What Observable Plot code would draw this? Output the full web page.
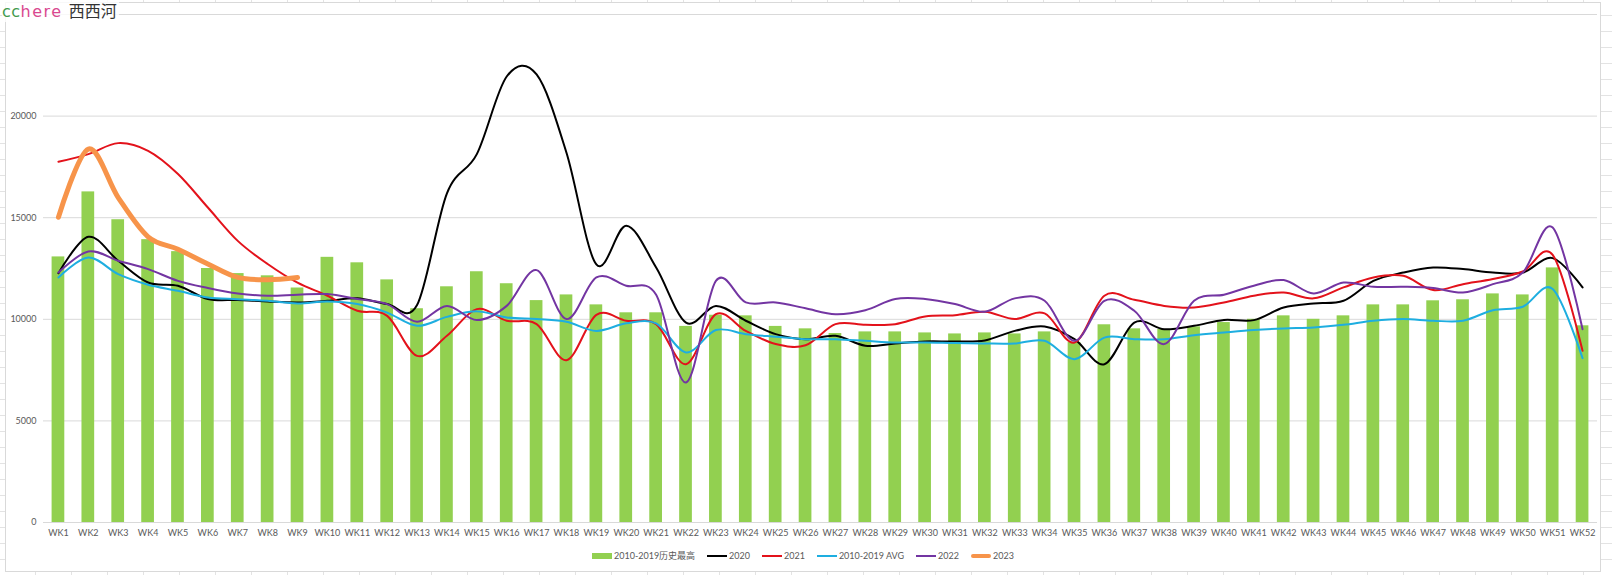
<!DOCTYPE html>
<html>
<head>
<meta charset="utf-8">
<script src="https://cdn.jsdelivr.net/npm/d3@7"></script>
<script src="https://cdn.jsdelivr.net/npm/@observablehq/plot@0.6"></script>
<style>
  html, body { margin: 0; padding: 0; }
  body {
    width: 1612px; height: 575px; position: relative; overflow: hidden;
    background-color: #ffffff;
    background-image:
      repeating-linear-gradient(to bottom, transparent 0 15px, #e3e3e3 15px 16px),
      repeating-linear-gradient(to right, transparent 0 35px, #e3e3e3 35px 36px);
  }
  #box {
    position: absolute; left: 5px; top: 2px; width: 1594px; height: 568px;
    background: #ffffff; border: 1px solid #d9d9d9;
  }
  #chart { position: absolute; left: 0; top: 0; }
  #title {
    position: absolute; left: 2px; top: 0px; font-size: 16px; line-height: 21px;
    background: rgba(255,255,255,0.8); padding-right: 2px; white-space: nowrap;
  }
  #title .cc { color: #3f9a4c; font-family: "DejaVu Sans"; letter-spacing: 0.5px; }
  #title .here { color: #d9488f; font-family: "DejaVu Sans"; letter-spacing: 1.5px; }
  #title .cn { color: #333333; font-family: "Noto Sans CJK SC"; font-size: 16px; margin-left: 2px; }
  #legend {
    position: absolute; left: 592px; top: 549px; height: 13px;
    display: flex; align-items: center; font-family: Lato, "Noto Sans CJK SC", sans-serif;
    font-size: 9px; color: #595959; white-space: nowrap;
  }
  #legend .item { display: flex; align-items: center; margin-right: 12px; }
  #legend .sw { display: inline-block; width: 20px; margin-right: 2px; }
</style>
</head>
<body>
<div id="box"></div>
<div id="chart"></div>
<div id="title"><span class="cc">cc</span><span class="here">here</span> <span class="cn">西西河</span></div>
<div id="legend"></div>
<script>
const weeks = ["WK1","WK2","WK3","WK4","WK5","WK6","WK7","WK8","WK9","WK10",
  "WK11","WK12","WK13","WK14","WK15","WK16","WK17","WK18","WK19","WK20",
  "WK21","WK22","WK23","WK24","WK25","WK26","WK27","WK28","WK29","WK30",
  "WK31","WK32","WK33","WK34","WK35","WK36","WK37","WK38","WK39","WK40",
  "WK41","WK42","WK43","WK44","WK45","WK46","WK47","WK48","WK49","WK50",
  "WK51","WK52"];

// 2010-2019 历史最高 (bars)
const histHigh = [13070,16270,14900,13920,13330,12500,12250,12140,11540,13050,
  12780,11940,10520,11600,12340,11750,10920,11200,10710,10320,
  10320,9650,10200,10170,9650,9530,9300,9380,9380,9330,
  9280,9330,9280,9380,8860,9730,9530,9500,9630,9840,
  10000,10170,10000,10170,10710,10710,10910,10960,11250,11200,
  12530,9680];

const y2020 = [12270,14060,12880,11810,11650,11000,10950,10880,10830,10910,
  11030,10750,10700,16200,18130,21950,22050,18200,12700,14600,
  12550,9840,10660,9930,9270,9020,9190,8700,8810,8910,
  8910,8960,9430,9650,9020,7790,9840,9510,9680,9970,
  9960,10580,10780,10910,11890,12300,12550,12470,12300,12300,
  13010,11570];

const y2021 = [17750,18130,18670,18290,17150,15500,13860,12720,11800,11160,
  10420,10170,8200,9190,10500,9930,9760,7990,10220,9930,
  9760,7790,10250,9430,8780,8720,9760,9730,9760,10140,
  10200,10370,10010,10290,8860,11160,10960,10660,10580,10830,
  11160,11320,11030,11570,12060,12140,11440,11730,11980,12350,
  13170,8450];

const avg1019 = [12060,13040,12220,11700,11400,11070,10990,10910,10780,10880,
  10750,10330,9680,10120,10390,10090,10010,9880,9430,9800,
  9800,8370,9470,9270,9140,9020,9020,8940,8860,8860,
  8830,8810,8810,8940,8040,9100,9020,9020,9220,9350,
  9470,9550,9600,9730,9930,10010,9930,9930,10450,10620,
  11490,8090];

const y2022 = [12300,13340,12880,12470,11890,11540,11270,11160,11210,11240,
  11000,10750,9880,10660,9960,10660,12420,10010,12060,11650,
  11210,6890,11890,10830,10830,10540,10250,10450,11000,11000,
  10750,10370,11030,10910,8940,10910,10420,8780,10910,11210,
  11650,11930,11270,11810,11600,11600,11540,11320,11730,12300,
  14520,9510];

const y2023 = [15020,18380,15990,14060,13450,12720,12060,11950,12060];

const yTicks = [0,5000,10000,15000,20000,25000];
const yTickLabels = [0,5000,10000,15000,20000]; // 25000 is hidden under the title in the original

const series = [
  {name: "2020", values: y2020, color: "#000000", width: 2},
  {name: "2021", values: y2021, color: "#e3121b", width: 2},
  {name: "2010-2019 AVG", values: avg1019, color: "#1eaee0", width: 2},
  {name: "2022", values: y2022, color: "#7335a2", width: 2},
  {name: "2023", values: y2023, color: "#f7944a", width: 5}
];
const barName = "2010-2019历史最高";
const barColor = "#92d050";

const toRows = vals => vals.map((v, i) => ({week: weeks[i], value: v}));

const marks = [
  Plot.ruleY(yTicks, {stroke: "#d9d9d9", strokeWidth: 1}),
  Plot.barY(toRows(histHigh), {x: "week", y: "value", fill: barColor})
];
for (const s of series) {
  marks.push(Plot.line(toRows(s.values), {
    x: "week", y: "value", stroke: s.color, strokeWidth: s.width,
    curve: "cardinal", tension: 0, strokeLinecap: "round", strokeLinejoin: "round"
  }));
}

const chart = Plot.plot({
  width: 1612,
  height: 545,
  marginTop: 14,
  marginBottom: 23,
  marginLeft: 43,
  marginRight: 15,
  style: {fontFamily: "Lato, sans-serif", fontSize: "9px", color: "#595959", background: "transparent"},
  x: {type: "band", domain: weeks, paddingInner: 0.575, paddingOuter: 0.2875, label: null, tickSize: 0, tickPadding: 7},
  y: {domain: [0, 25000], ticks: yTickLabels, tickFormat: d => String(d), label: null, tickSize: 0, tickPadding: 7},
  marks
});
document.getElementById("chart").appendChild(chart);

// legend
const legend = document.getElementById("legend");
const mk = (swatchStyle, text) => {
  const it = document.createElement("div");
  it.className = "item";
  const sw = document.createElement("span");
  sw.className = "sw";
  Object.assign(sw.style, swatchStyle);
  const tx = document.createElement("span");
  tx.textContent = text;
  it.appendChild(sw); it.appendChild(tx);
  legend.appendChild(it);
};
mk({height: "6px", background: barColor}, barName);
for (const s of series) {
  mk({height: (s.width > 2 ? 4 : 2) + "px", background: s.color, borderRadius: s.width > 2 ? "2px" : "0"}, s.name);
}
</script>
</body>
</html>
